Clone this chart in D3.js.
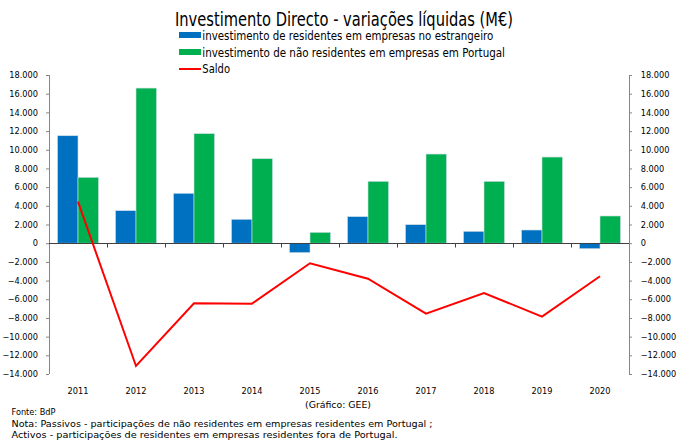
<!DOCTYPE html>
<html><head><meta charset="utf-8">
<script src="https://cdn.jsdelivr.net/npm/d3@7"></script>
<style>
html,body{margin:0;padding:0;background:#fff;}
svg{display:block;}
</style></head>
<body>
<svg id="c" width="680" height="448"></svg>
<script>
const years = ["2011","2012","2013","2014","2015","2016","2017","2018","2019","2020"];
const residentesExterior = [11500, 3480, 5340, 2560, -1010, 2840, 1980, 1270, 1410, -590];
const naoResidentesPortugal = [7050, 16600, 11720, 9040, 1160, 6620, 9540, 6620, 9220, 2910];
const saldo = [4440, -13140, -6430, -6470, -2150, -3800, -7540, -5330, -7860, -3540];
const yTicks = [-14000,-12000,-10000,-8000,-6000,-4000,-2000,0,2000,4000,6000,8000,10000,12000,14000,16000,18000];
const seriesNames = ["investimento de residentes em empresas no estrangeiro",
  "investimento de não residentes em empresas em Portugal", "Saldo"];
const colors = ["#0070C0", "#00B050", "#FF0000"];

const svg = d3.select("#c");
const L = 49, R = 629, T = 75, B = 374;
const x = d3.scaleBand().domain(years).range([L, R]).padding(0);
const x1 = d3.scaleBand().domain([0,1]).range([8.5, x.bandwidth() - 8.5]).padding(0);
const y = d3.scaleLinear().domain([-14000, 18000]).range([B, T]);
const fmt = v => d3.format(",")(v).replace(/,/g, ".");
const tickFont = "'DejaVu Sans', Verdana, sans-serif";
const narrow = "'Liberation Sans Narrow','DejaVu Sans Condensed','Roboto',sans-serif";

// title
svg.append("text").attr("x", 175).attr("y", 25.5)
  .attr("font-family", narrow).attr("font-size", 19.5).attr("fill", "#000")
  .attr("textLength", 338).attr("lengthAdjust", "spacingAndGlyphs")
  .text("Investimento Directo - variações líquidas (M€)");

// legend
const lg = svg.append("g");
const lgY = [35, 52, 69];
[0,1,2].forEach(i => {
  if (i < 2) {
    lg.append("rect").attr("x", 179).attr("y", lgY[i] - 3).attr("width", 22).attr("height", 6).attr("fill", colors[i]);
  } else {
    lg.append("line").attr("x1", 179).attr("x2", 201).attr("y1", lgY[i]).attr("y2", lgY[i])
      .attr("stroke", colors[i]).attr("stroke-width", 2);
  }
});
const lgW = [291, 302.7, 27.7];
const lgB = [40.2, 56.8, 72.8];
seriesNames.forEach((s, i) => {
  lg.append("text").attr("x", 202.3).attr("y", lgB[i])
    .attr("font-family", narrow).attr("font-size", 11.5).attr("fill", "#000")
    .attr("textLength", lgW[i]).attr("lengthAdjust", "spacingAndGlyphs").text(s);
});

// axes
const axL = d3.axisLeft(y).tickValues(yTicks).tickFormat(fmt).tickSize(3).tickPadding(8);
const gL = svg.append("g").attr("transform", `translate(${L},0)`).call(axL);
const axR = d3.axisRight(y).tickValues(yTicks).tickFormat(fmt).tickSize(3).tickPadding(8.7);
const gR = svg.append("g").attr("transform", `translate(${R},0)`).call(axR);
[gL, gR].forEach(g => {
  g.select(".domain").remove();
  g.selectAll(".tick line").attr("stroke", "#868686");
  g.selectAll(".tick text").attr("font-family", tickFont).attr("font-size", 8.2).attr("fill", "#000");
});
svg.append("line").attr("x1", L + 0.5).attr("x2", L + 0.5).attr("y1", T).attr("y2", B).attr("stroke", "#868686");
svg.append("line").attr("x1", R + 0.5).attr("x2", R + 0.5).attr("y1", T).attr("y2", B).attr("stroke", "#868686");

// bars
const gb = svg.append("g");
years.forEach((yr, i) => {
  [residentesExterior[i], naoResidentesPortugal[i]].forEach((v, j) => {
    gb.append("rect")
      .attr("x", x(yr) + x1(j))
      .attr("y", y(Math.max(0, v)))
      .attr("width", x1.bandwidth())
      .attr("height", Math.abs(y(v) - y(0)))
      .attr("fill", colors[j])
      .attr("stroke", "#cfdde8").attr("stroke-width", 0.6);
  });
});

// x axis
const y0 = Math.round(y(0)) + 0.5;
svg.append("line").attr("x1", L).attr("x2", R).attr("y1", y0).attr("y2", y0).attr("stroke", "#404040");
years.forEach((yr, i) => {
  if (i > 0) {
    const xx = Math.round(x(yr)) + 0.5;
    svg.append("line").attr("x1", xx).attr("x2", xx).attr("y1", y0).attr("y2", y0 + 4).attr("stroke", "#404040");
  }
  svg.append("text").attr("x", x(yr) + x.bandwidth()/2).attr("y", 393.5)
    .attr("text-anchor", "middle").attr("font-family", tickFont).attr("font-size", 8.2).attr("fill", "#000").text(yr);
});

// saldo line
const line = d3.line().x((d, i) => x(years[i]) + x.bandwidth()/2).y(d => y(d));
svg.append("path").datum(saldo).attr("d", line).attr("fill", "none")
  .attr("stroke", colors[2]).attr("stroke-width", 2).attr("stroke-linejoin", "miter");

// footer
const foot = [
  {t: "(Gráfico: GEE)", x: 305, y: 408.3, w: 66},
  {t: "Fonte: BdP", x: 11.5, y: 414.5, w: 44},
  {t: "Nota: Passivos - participações de não residentes em empresas residentes em Portugal ;", x: 11.5, y: 426.8, w: 421},
  {t: "Activos - participações de residentes em empresas residentes fora de Portugal.", x: 11.5, y: 438.2, w: 386}
];
foot.forEach(f => {
  svg.append("text").attr("x", f.x).attr("y", f.y).attr("font-family", narrow).attr("font-size", 9.5)
    .attr("fill", "#000").attr("textLength", f.w).attr("lengthAdjust", "spacingAndGlyphs").text(f.t);
});
</script>
</body></html>
